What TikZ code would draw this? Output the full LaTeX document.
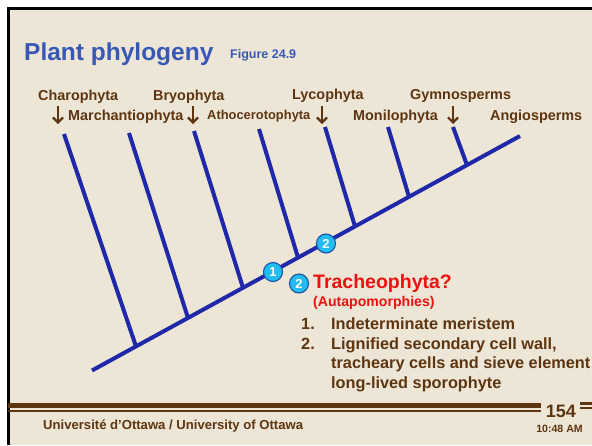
\documentclass[tikz,border=0pt]{standalone}
\usepackage{fontspec}
\setmainfont{Liberation Sans}
\usetikzlibrary{arrows.meta}
\definecolor{bgc}{HTML}{EDE6D6}
\definecolor{brn}{HTML}{5E3511}
\definecolor{ttlblue}{HTML}{3858B5}
\definecolor{treeblue}{HTML}{1E28A8}
\definecolor{cyanf}{HTML}{22BDF0}
\definecolor{circb}{HTML}{1E50A8}
\definecolor{redt}{HTML}{EE1111}
\tikzset{
  lbl/.style={font=\fontsize{14.4}{16}\selectfont\bfseries, text=brn, inner sep=0pt, anchor=base west},
  lblsmall/.style={font=\fontsize{12.9}{14}\selectfont\bfseries, text=brn, inner sep=0pt, anchor=base west},
  branch/.style={draw=treeblue, line width=4pt},
  downarrow/.style={draw=brn, line width=2.4pt, -{Straight Barb[length=5pt,width=10pt,line width=2.2pt]}},
  circ/.style={circle, fill=cyanf, draw=circb, line width=1.1pt, minimum size=19pt, inner sep=0pt, text=white, font=\fontsize{13}{13}\selectfont\bfseries},
  listt/.style={font=\fontsize{16.3}{18}\selectfont\bfseries, text=brn, inner sep=0pt, anchor=base west},
}
\begin{document}
\begin{tikzpicture}[x=1pt,y=-1pt]
\useasboundingbox (0,0) rectangle (592,445);
\clip (0,0) rectangle (592,445);
% background and frame
\fill[white] (0,0) rectangle (592,445);
\fill[bgc] (8,8) rectangle (592,445);
\draw[black, line width=3pt] (8.5,445) -- (8.5,8.5) -- (592,8.5);

% title
\node[font=\fontsize{24.5}{26}\selectfont\bfseries, text=ttlblue, inner sep=0pt, anchor=base west] (title) at (24,60) {Plant phylogeny};
\node[font=\fontsize{12.5}{14}\selectfont\bfseries, text=ttlblue, inner sep=0pt, anchor=base west] (fig) at (230,58.7) {Figure 24.9};

% taxon labels
\node[lbl] (charo) at (38,100) {Charophyta};
\node[lbl] (march) at (68,120) {Marchantiophyta};
\node[lbl] (bryo) at (153,100) {Bryophyta};
\node[lblsmall] (atho) at (207,119) {Athocerotophyta};
\node[lbl] (lyco) at (292,99.5) {Lycophyta};
\node[lbl] (moni) at (353,120) {Monilophyta};
\node[lbl] (gymno) at (410,99.5) {Gymnosperms};
\node[lbl] (angio) at (490,120) {Angiosperms};

% arrows
\coordinate (a1s) at (58,106); \coordinate (a1e) at (58,124);
\coordinate (a2s) at (193,106); \coordinate (a2e) at (193,124);
\coordinate (a3s) at (322,106); \coordinate (a3e) at (322,124);
\coordinate (a4s) at (453,106); \coordinate (a4e) at (453,124);
\draw[downarrow] (a1s) -- (a1e);
\draw[downarrow] (a2s) -- (a2e);
\draw[downarrow] (a3s) -- (a3e);
\draw[downarrow] (a4s) -- (a4e);

% tree
\coordinate (t0) at (92,370.5);
\coordinate (t1) at (520,136);
\coordinate (b1) at (64,134);   \coordinate (j1) at (136,346.4);
\coordinate (b2) at (129,133);  \coordinate (j2) at (188,317.9);
\coordinate (b3) at (194,131);  \coordinate (j3) at (243,287.8);
\coordinate (b4) at (259,129);  \coordinate (j4) at (298,257.6);
\coordinate (b5) at (325,127);  \coordinate (j5) at (355,226.4);
\coordinate (b6) at (388,127);  \coordinate (j6) at (409,196.8);
\coordinate (b7) at (453,127);  \coordinate (j7) at (467,165.0);
\draw[branch] (t0) -- (t1);
\draw[branch] (b1) -- (j1);
\draw[branch] (b2) -- (j2);
\draw[branch] (b3) -- (j3);
\draw[branch] (b4) -- (j4);
\draw[branch] (b5) -- (j5);
\draw[branch] (b6) -- (j6);
\draw[branch] (b7) -- (j7);

% markers
\node[circ] (m1) at (273,272) {1};
\node[circ] (m2) at (326,243.5) {2};
\node[circ] (m3) at (299,283.5) {2};

% trachaeophyta text
\node[font=\fontsize{19.5}{21}\selectfont\bfseries, text=redt, inner sep=0pt, anchor=base west] (trach) at (313,288.5) {Tracheophyta?};
\node[font=\fontsize{14.1}{16}\selectfont\bfseries, text=redt, inner sep=0pt, anchor=base west] (autap) at (313,306) {(Autapomorphies)};
\node[listt] (n1) at (301,329) {1.};
\node[listt] (l1) at (331,329) {Indeterminate meristem};
\node[listt] (n2) at (301,349) {2.};
\node[listt] (l2) at (331,349) {Lignified secondary cell wall,};
\node[listt] (l3) at (331,368.5) {tracheary cells and sieve element};
\node[listt] (l4) at (331,388) {long-lived sporophyte};

% footer
\draw[brn, line width=5pt] (8,405) -- (541,405);
\draw[brn, line width=2pt] (8,411) -- (541,411);
\draw[brn, line width=3.5pt] (580,403.5) -- (592,403.5);
\draw[brn, line width=1.8pt] (580,408.3) -- (592,408.3);
\node[font=\fontsize{18}{20}\selectfont\bfseries, text=brn, inner sep=0pt, anchor=base east] (pg) at (576,417) {154};
\node[font=\fontsize{10.6}{12}\selectfont\bfseries, text=brn, inner sep=0pt, anchor=base east] (time) at (583,432) {10:48 AM};
\node[font=\fontsize{13.1}{15}\selectfont\bfseries, text=brn, inner sep=0pt, anchor=base west] (univ) at (43,429) {Université d’Ottawa / University of Ottawa};
\end{tikzpicture}
\end{document}
